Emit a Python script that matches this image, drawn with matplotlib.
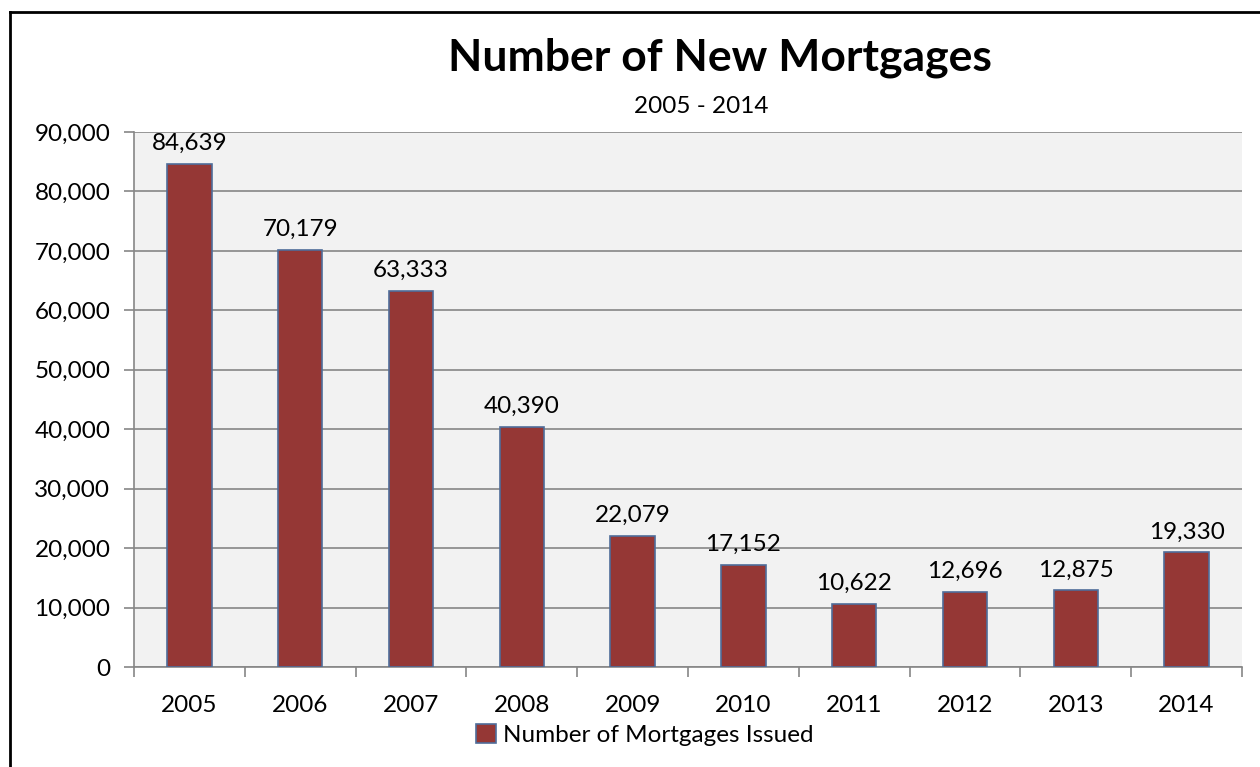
import matplotlib
matplotlib.use("Agg")
import matplotlib.pyplot as plt
from matplotlib.lines import Line2D
from matplotlib.ticker import FuncFormatter, MultipleLocator

years = ["2005", "2006", "2007", "2008", "2009", "2010", "2011", "2012", "2013", "2014"]
mortgages = [84639, 70179, 63333, 40390, 22079, 17152, 10622, 12696, 12875, 19330]
series_name = "Number of Mortgages Issued"
title = "Number of New Mortgages"
subtitle = "2005 - 2014"

plt.rcParams['font.family'] = ['Lato', 'DejaVu Sans']
FS = 17.5

fig = plt.figure(figsize=(12.6, 7.67), dpi=100)
ax = fig.add_axes([134/1260, 1-667/767, (1242-134)/1260, (667-132)/767])
ax.set_facecolor("#F2F2F2")

x = list(range(len(years)))
bars = ax.bar(x, mortgages, width=0.4, color="#953735", edgecolor="#4F6D9A",
              linewidth=1.2, zorder=3, label=series_name)
for xi, v in zip(x, mortgages):
    ax.annotate(f"{v:,}", (xi, v), xytext=(0, 7), textcoords="offset points",
                ha="center", va="bottom", fontsize=FS, color="black", zorder=4)

ax.set_xlim(-0.5, len(years) - 0.5)
ax.set_ylim(0, 90000)
ax.yaxis.set_major_locator(MultipleLocator(10000))
ax.yaxis.set_major_formatter(FuncFormatter(lambda v, p: f"{int(v):,}"))
ax.grid(axis="y", color="#868686", linewidth=1.2, zorder=1)
ax.set_axisbelow(True)

ax.set_xticks(x)
ax.set_xticklabels(years)
ax.set_xticks([i + 0.5 for i in range(-1, len(years))], minor=True)
ax.tick_params(axis="x", which="major", length=0, pad=20, labelsize=FS)
ax.tick_params(axis="x", which="minor", length=7, color="#868686", width=1.2)
ax.tick_params(axis="y", length=7, color="#868686", width=1.2, labelsize=FS, pad=10)

for s in ["top", "right"]:
    ax.spines[s].set_visible(False)
for s in ["left", "bottom"]:
    ax.spines[s].set_color("#868686")
    ax.spines[s].set_linewidth(1.2)

fig.text(720/1260, 1-71/767, title, ha="center", va="baseline", fontsize=32,
         fontweight="bold")
fig.text(701/1260, 1-113/767, subtitle, ha="center", va="baseline", fontsize=FS)

leg = fig.legend(handles=[bars], labels=[series_name], loc="center",
                 bbox_to_anchor=(645/1260, 1-735/767), frameon=False,
                 fontsize=FS, handlelength=0.8, handleheight=0.8,
                 handletextpad=0.3)

# figure border (left and top edges visible; right/bottom run off the image)
fig.add_artist(Line2D([10/1260, 10/1260], [0, 1-12/767], transform=fig.transFigure,
                      color="black", linewidth=2))
fig.add_artist(Line2D([10/1260, 1], [1-12/767, 1-12/767], transform=fig.transFigure,
                      color="black", linewidth=2))

fig.savefig("out.png", dpi=100, facecolor="white")
